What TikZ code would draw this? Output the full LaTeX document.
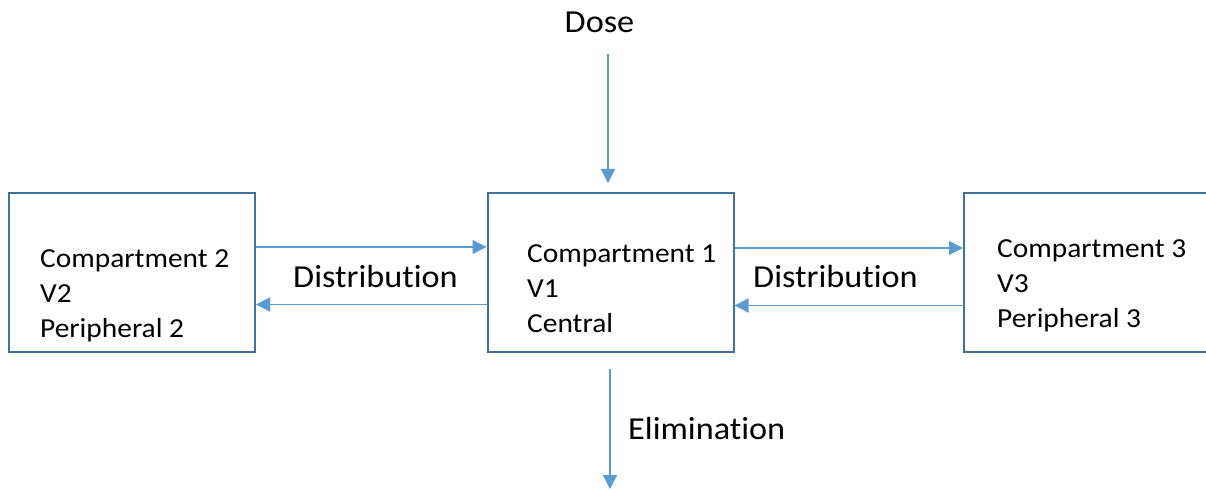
\documentclass[tikz,border=0pt]{standalone}
\usepackage{fontspec}
\setmainfont{Carlito}[FakeStretch=1.07,Ligatures={NoCommon,NoRare,NoDiscretionary}]
\usetikzlibrary{arrows.meta}
\definecolor{boxblue}{HTML}{41719C}
\definecolor{arrblue}{HTML}{5B9BD5}
\tikzset{
  box/.style={draw=boxblue, line width=2bp, minimum width=246bp, minimum height=159bp, inner sep=0pt},
  arr/.style={draw=arrblue, line width=1.3bp, -{Triangle[length=14bp,width=14bp]}},
  boxtxt/.style={anchor=base west, inner sep=0pt, font=\fontsize{27.5bp}{33bp}\selectfont},
  lbl/.style={inner sep=0pt, font=\fontsize{32bp}{38bp}\selectfont},
}
\begin{document}
\begin{tikzpicture}[x=1bp,y=-1bp]
\clip (0,0) rectangle (1206,493);
\useasboundingbox (0,0) rectangle (1206,493);
\fill[white] (0,0) rectangle (1206,493);
% boxes
\node[box] (L) at (132,272.5) {};
\node[box] (C) at (610.5,272.5) {};
\node[box, minimum width=280bp] (R) at (1104,272.5) {};
% box texts
\node[boxtxt] (l1) at (40,268) {Compartment 2};
\node[boxtxt] (l2) at (40,303) {V2};
\node[boxtxt] (l3) at (40,338) {Peripheral 2};
\node[boxtxt] (c1) at (527,263) {Compartment 1};
\node[boxtxt] (c2) at (527,298) {V1};
\node[boxtxt] (c3) at (527,333) {Central};
\node[boxtxt] (r1) at (997,258) {Compartment 3};
\node[boxtxt] (r2) at (997,293) {V3};
\node[boxtxt] (r3) at (997,328) {Peripheral 3};
% labels
\node[lbl, anchor=base] (dose) at (599.5,33) {Dose};
\node[lbl, anchor=base west] (dl) at (293,288) {Distribution};
\node[lbl, anchor=base west] (dr) at (753,288) {Distribution};
\node[lbl, anchor=base west] (elim) at (628,439) {Elimination};
% arrows
\coordinate (d1) at (608,54);
\coordinate (d2) at (608,183);
\coordinate (e1) at (610,369);
\coordinate (e2) at (610,489);
\draw[arr] (d1) -- (d2);
\draw[arr] (e1) -- (e2);
\draw[arr] ([yshift=25.5bp]L.east) -- ([yshift=25.5bp]C.west);
\draw[arr] ([yshift=-32bp]C.west) -- ([yshift=-32bp]L.east);
\draw[arr] ([yshift=24.5bp]C.east) -- ([yshift=24.5bp]R.west);
\draw[arr] ([yshift=-33bp]R.west) -- ([yshift=-33bp]C.east);
\end{tikzpicture}
\end{document}
